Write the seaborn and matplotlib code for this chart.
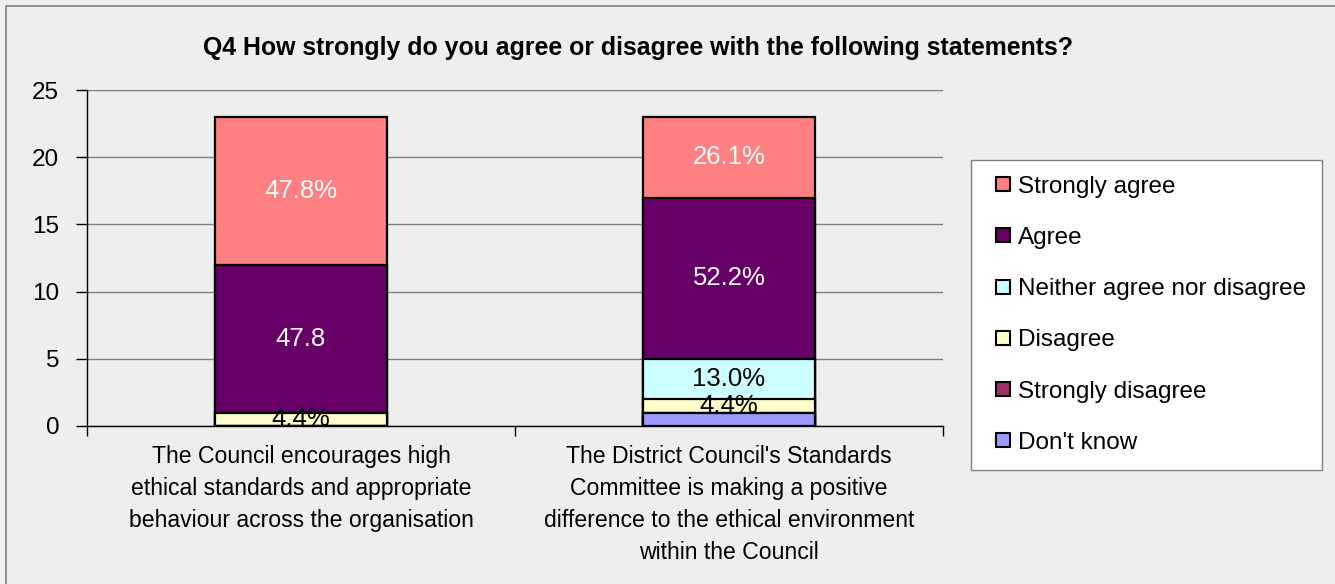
import matplotlib
matplotlib.use("Agg")
import matplotlib.pyplot as plt
import matplotlib.patches as mpatches
from matplotlib.lines import Line2D
import numpy as np
import pandas as pd
import seaborn as sns

# Statements (x categories)
statements = [
    "The Council encourages high\nethical standards and appropriate\nbehaviour across the organisation",
    "The District Council's Standards\nCommittee is making a positive\ndifference to the ethical environment\nwithin the Council",
]

# Response categories, bottom of stack first
responses = ["Don't know", "Strongly disagree", "Disagree",
             "Neither agree nor disagree", "Agree", "Strongly agree"]

# Number of respondents per response, per statement
dont_know = [0, 1]
strongly_disagree = [0, 0]
disagree = [1, 1]
neither = [0, 3]
agree = [11, 12]
strongly_agree = [11, 6]

# Segment labels as printed
label_dont_know = ["", ""]
label_strongly_disagree = ["", ""]
label_disagree = ["4.4%", "4.4%"]
label_neither = ["", "13.0%"]
label_agree = ["47.8", "52.2%"]
label_strongly_agree = ["47.8%", "26.1%"]

colors = {
    "Strongly agree": "#FF8080",
    "Agree": "#660066",
    "Neither agree nor disagree": "#CCFFFF",
    "Disagree": "#FFFFCC",
    "Strongly disagree": "#993366",
    "Don't know": "#9999FF",
}
text_colors = {
    "Strongly agree": "white",
    "Agree": "white",
    "Neither agree nor disagree": "black",
    "Disagree": "black",
    "Strongly disagree": "white",
    "Don't know": "black",
}

counts = pd.DataFrame(
    [dont_know, strongly_disagree, disagree, neither, agree, strongly_agree],
    index=responses, columns=statements,
)
labels = pd.DataFrame(
    [label_dont_know, label_strongly_disagree, label_disagree,
     label_neither, label_agree, label_strongly_agree],
    index=responses, columns=statements,
)
tops = counts.cumsum()
bottoms = tops - counts

sns.set_theme(style="white")
plt.rcParams["font.family"] = ["Liberation Sans", "DejaVu Sans"]
plt.rcParams["text.color"] = "black"
plt.rcParams["xtick.labelcolor"] = "black"
plt.rcParams["ytick.labelcolor"] = "black"

bg = "#EEEEEE"
fig = plt.figure(figsize=(13.35, 5.84), dpi=100, facecolor=bg)
ax = fig.add_axes([87 / 1335, 158 / 584, (943 - 87) / 1335, 336 / 584])
ax.set_facecolor(bg)

# Stacked bars: draw cumulative heights from the top layer down
for resp in responses[::-1]:
    df = pd.DataFrame({"statement": statements, "top": tops.loc[resp].values})
    sns.barplot(data=df, x="statement", y="top", color=colors[resp],
                width=0.4, edgecolor="black", linewidth=1.6,
                saturation=1, ax=ax, zorder=3)

# Segment labels
for resp in responses:
    for i, st in enumerate(statements):
        txt = labels.loc[resp, st]
        if txt:
            yc = (bottoms.loc[resp, st] + tops.loc[resp, st]) / 2
            ax.text(i, yc, txt, ha="center", va="center", fontsize=18.5,
                    color=text_colors[resp], zorder=5)

ax.set_ylim(0, 25)
ax.set_xlim(-0.5, 1.5)
ax.set_yticks(np.arange(0, 26, 5))
ax.yaxis.grid(True, color="#808080", linewidth=1.0)
ax.set_axisbelow(True)
ax.set_xlabel("")
ax.set_ylabel("")
for s in ["top", "right"]:
    ax.spines[s].set_visible(False)
for s in ["left", "bottom"]:
    ax.spines[s].set_color("black")
    ax.spines[s].set_linewidth(1.0)
    ax.spines[s].set_zorder(4)

ax.tick_params(axis="y", length=8, width=1, color="black", labelsize=17.5,
               pad=12, left=True, direction="out")
ax.tick_params(axis="x", length=0, labelsize=16.6, pad=14)
ax.set_xticks([-0.5, 0.5, 1.5], minor=True)
ax.tick_params(axis="x", which="minor", length=7, width=1, color="black",
               bottom=True, direction="out")
for lab in ax.get_xticklabels():
    lab.set_multialignment("center")
    lab.set_verticalalignment("top")
    lab.set_linespacing(1.5)

fig.text(638 / 1335, 1 - 48 / 584,
         "Q4 How strongly do you agree or disagree with the following statements?",
         ha="center", va="center", fontsize=17.9, fontweight="bold")

# Legend
handles = [Line2D([0], [0], marker="s", linestyle="none", markersize=10,
                  markerfacecolor=colors[r], markeredgecolor="black",
                  markeredgewidth=1.5, label=r)
           for r in responses[::-1]]
leg = fig.legend(handles=handles, loc="upper left",
                 bbox_to_anchor=(971 / 1335, 1 - 160 / 584),
                 frameon=True, framealpha=1, fontsize=17.5, labelspacing=1.2,
                 handletextpad=0.0, handlelength=1.3, borderpad=0.65,
                 borderaxespad=0, fancybox=False)
leg.get_frame().set_facecolor("white")
leg.get_frame().set_edgecolor("#808080")
leg.get_frame().set_linewidth(1.0)

# Outer chart border
fig.patches.append(mpatches.Rectangle((6 / 1335, -0.01), 1.05, 1 - 6 / 584 + 0.01,
                                      transform=fig.transFigure, fill=False,
                                      edgecolor="#808080", linewidth=1.2))

fig.savefig("out.png", dpi=100, facecolor=bg)
